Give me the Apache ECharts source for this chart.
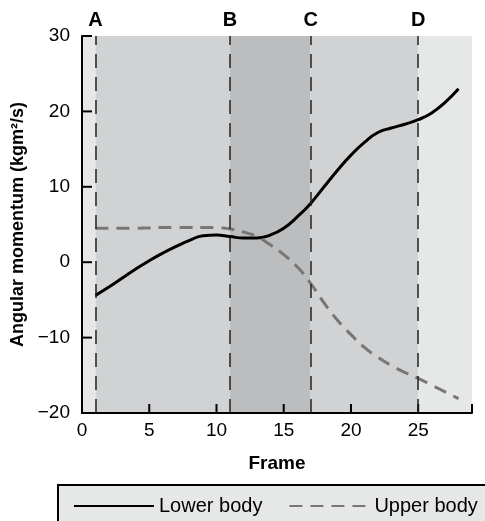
<!DOCTYPE html>
<html>
<head>
<meta charset="utf-8">
<script src="https://cdn.jsdelivr.net/npm/echarts@6/dist/echarts.min.js"></script>
<style>
  html, body { margin: 0; padding: 0; background: #fff; }
  #chart { width: 485px; height: 521px; }
</style>
</head>
<body>
<div id="chart"></div>
<script>
// frames and angular momentum values
const frames = [1, 2, 3, 4, 5, 6, 7, 8, 9, 10, 11, 12, 13, 14, 15, 16, 17, 18, 19, 20, 21, 22, 23, 24, 25, 26, 27, 28];
const lowerBody = [-4.4, -3.3, -2.1, -0.9, 0.2, 1.2, 2.1, 2.9, 3.5, 3.6, 3.4, 3.2, 3.2, 3.6, 4.5, 6.0, 7.8, 10.0, 12.2, 14.2, 15.9, 17.2, 17.8, 18.3, 18.9, 19.8, 21.2, 23.0];
const upperBody = [4.5, 4.5, 4.5, 4.5, 4.55, 4.6, 4.6, 4.6, 4.6, 4.6, 4.4, 4.0, 3.4, 2.3, 1.0, -0.6, -2.8, -5.4, -7.7, -9.6, -11.3, -12.6, -13.7, -14.6, -15.4, -16.3, -17.2, -18.1];

// phase bands and boundaries
const bandEdges = [0, 1, 11, 17, 25, 29];
const bandColors = ['#e6e7e7', '#d1d2d4', '#bcbdbf', '#d1d2d4', '#e6e7e7'];
const phaseFrames = [1, 11, 17, 25];
const phaseLabels = ['A', 'B', 'C', 'D'];

// tick positions (inside ticks drawn over the bands)
const xTicks = [0, 5, 10, 15, 20, 25, 29];
const yTicks = [-20, -10, 0, 10, 20, 30];

const font = 'Liberation Sans, Arial, Helvetica, sans-serif';

function pairs(xs, ys) {
  return xs.map((x, i) => [x, ys[i]]);
}

const chart = echarts.init(document.getElementById('chart'));

let areas = [];
for (let i = 0; i < bandColors.length; i++) {
  areas.push([
    {xAxis: bandEdges[i], itemStyle: {color: bandColors[i]}},
    {xAxis: bandEdges[i + 1]}
  ]);
}

let lines = phaseFrames.map((f, i) => ({
  xAxis: f,
  label: {formatter: phaseLabels[i]}
}));

function tickItem(dx, dy) {
  return function (params, api) {
    const p = api.coord([api.value(0), api.value(1)]);
    return {
      type: 'line',
      shape: {x1: p[0], y1: p[1], x2: p[0] + dx, y2: p[1] + dy},
      style: {stroke: '#000', lineWidth: 2}
    };
  };
}

let option = {
  animation: false,
  textStyle: {fontFamily: font},
  grid: {left: 82, right: 13, top: 36, bottom: 108},
  graphic: [{
    type: 'rect',
    z: 0,
    shape: {x: 58, y: 485, width: 440, height: 50},
    style: {fill: '#e6e7e7', stroke: '#000', lineWidth: 2}
  }],
  legend: {
    z: 10,
    left: 68,
    top: 491,
    itemWidth: 80,
    itemHeight: 16,
    itemGap: 26,
    itemStyle: {opacity: 0},
    data: ['Lower body', 'Upper body'],
    textStyle: {fontSize: 20, color: '#000', fontFamily: font}
  },
  xAxis: {
    type: 'value',
    zlevel: 1,
    min: 0,
    max: 29,
    interval: 5,
    name: 'Frame',
    nameLocation: 'middle',
    nameGap: 41,
    nameTextStyle: {fontSize: 19, fontWeight: 'bold', color: '#000'},
    axisLine: {show: true, onZero: false, lineStyle: {color: '#000', width: 2}},
    axisTick: {show: false},
    axisLabel: {fontSize: 19, color: '#000', margin: 8, showMaxLabel: false},
    splitLine: {show: false}
  },
  yAxis: {
    type: 'value',
    zlevel: 1,
    min: -20,
    max: 30,
    interval: 10,
    name: 'Angular momentum (kgm²/s)',
    nameLocation: 'middle',
    nameGap: 44,
    nameTextStyle: {fontSize: 18, fontWeight: 'bold', color: '#000'},
    axisLine: {show: true, onZero: false, lineStyle: {color: '#000', width: 2}},
    axisTick: {show: false},
    axisLabel: {
      fontSize: 19, color: '#000', margin: 12,
      formatter: v => String(v).replace('-', '\u2212')
    },
    splitLine: {show: false}
  },
  series: [
    {
      name: 'phases',
      type: 'line',
      z: 1,
      data: [],
      markArea: {silent: true, data: areas},
      markLine: {
        silent: true,
        symbol: 'none',
        lineStyle: {color: '#222', width: 1.5, type: [14, 9]},
        label: {
          position: 'end',
          distance: 6,
          fontSize: 20,
          fontWeight: 'bold',
          color: '#000',
          fontFamily: font
        },
        data: lines
      }
    },
    {
      name: 'Lower body',
      type: 'line',
      z: 3,
      smooth: true,
      symbol: 'none',
      lineStyle: {color: '#000', width: 3},
      itemStyle: {color: '#000'},
      data: pairs(frames, lowerBody)
    },
    {
      name: 'Upper body',
      type: 'line',
      z: 3,
      smooth: true,
      symbol: 'none',
      lineStyle: {color: '#777', width: 3, type: [13, 8]},
      itemStyle: {color: '#777'},
      data: pairs(frames, upperBody)
    },
    {
      name: 'xticks',
      type: 'custom',
      z: 4,
      silent: true,
      clip: false,
      renderItem: tickItem(0, -9),
      data: xTicks.map(v => [v, -20])
    },
    {
      name: 'yticks',
      type: 'custom',
      z: 4,
      silent: true,
      clip: false,
      renderItem: tickItem(10, 0),
      data: yTicks.map(v => [0, v])
    }
  ]
};

chart.setOption(option);
</script>
</body>
</html>
